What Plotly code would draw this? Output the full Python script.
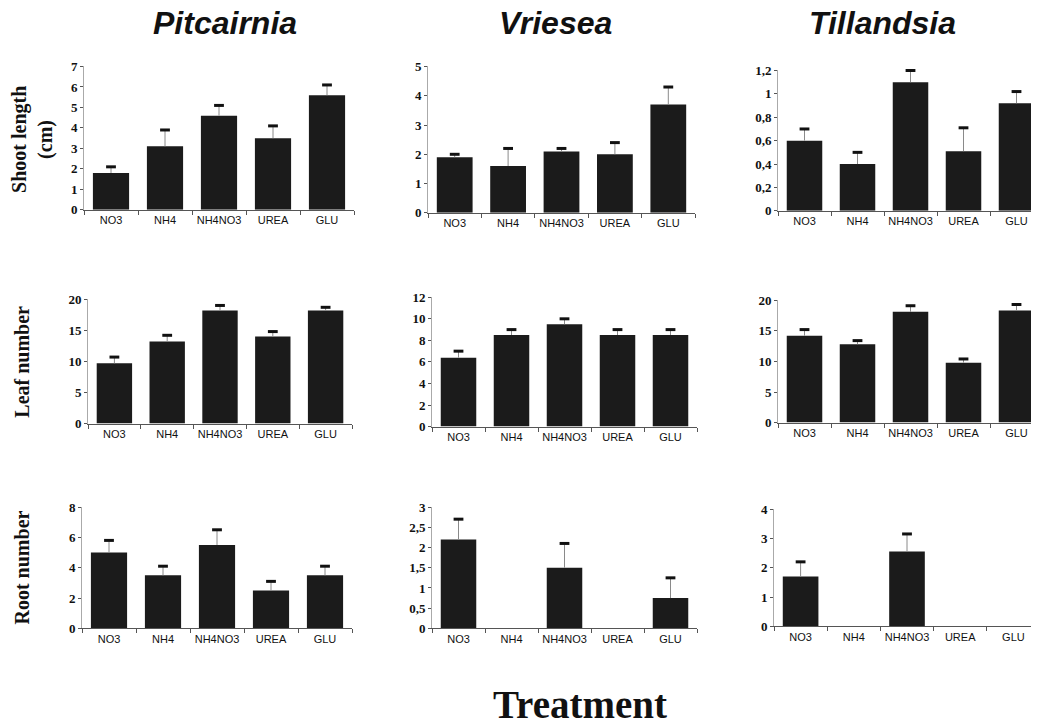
import plotly.graph_objects as go

# page placement correction (measured): window_x = fig_x + 8, window_y = 0.98 * fig_y + 15
OFF_X = 8
OFF_Y = 15
SY = 0.98
W, H = 1039, 717

treatments = ["NO3", "NH4", "NH4NO3", "UREA", "GLU"]
genera = ["Pitcairnia", "Vriesea", "Tillandsia"]

# Shoot length (cm)
shoot_pit = [1.8, 3.1, 4.6, 3.5, 5.6]
shoot_pit_err = [0.3, 0.8, 0.5, 0.6, 0.5]
shoot_vri = [1.9, 1.6, 2.1, 2.0, 3.7]
shoot_vri_err = [0.1, 0.6, 0.1, 0.4, 0.6]
shoot_til = [0.6, 0.4, 1.1, 0.51, 0.92]
shoot_til_err = [0.1, 0.1, 0.1, 0.2, 0.1]

# Leaf number
leaf_pit = [9.7, 13.2, 18.2, 14.0, 18.2]
leaf_pit_err = [1.0, 1.0, 0.8, 0.8, 0.5]
leaf_vri = [6.4, 8.5, 9.5, 8.5, 8.5]
leaf_vri_err = [0.6, 0.5, 0.5, 0.5, 0.5]
leaf_til = [14.2, 12.8, 18.1, 9.8, 18.3]
leaf_til_err = [1.0, 0.6, 1.0, 0.6, 1.0]

# Root number
root_pit = [5.0, 3.5, 5.5, 2.5, 3.5]
root_pit_err = [0.8, 0.6, 1.0, 0.6, 0.6]
root_vri = [2.2, 0.0, 1.5, 0.0, 0.75]
root_vri_err = [0.5, 0.0, 0.6, 0.0, 0.5]
root_til = [1.7, 0.0, 2.55, 0.0, 0.0]
root_til_err = [0.5, 0.0, 0.6, 0.0, 0.0]

# y-axis ranges and tick steps
y_max = [[7, 5, 1.2], [20, 12, 20], [8, 3, 4]]
y_step = [[1, 1, 0.2], [5, 2, 5], [2, 0.5, 1]]

values = [[shoot_pit, shoot_vri, shoot_til],
          [leaf_pit, leaf_vri, leaf_til],
          [root_pit, root_vri, root_til]]
errors = [[shoot_pit_err, shoot_vri_err, shoot_til_err],
          [leaf_pit_err, leaf_vri_err, leaf_til_err],
          [root_pit_err, root_vri_err, root_til_err]]

# panel boxes in window pixels: (x0, x1, ytop, ybottom)
boxes = [[(84, 354, 66, 210), (428, 695, 66, 213), (778, 1043, 70, 211)],
         [(88, 352, 299, 424), (432, 697, 297, 427), (778, 1043, 300, 423)],
         [(82, 352, 507, 629), (432, 697, 507, 629), (774, 1040, 509, 627)]]


def px(x):
    return min(max((x - OFF_X) / W, 0.0), 1.0)


def py(y):
    return min(max(1 - ((y - OFF_Y) / SY) / H, 0.0), 1.0)


fig = go.Figure()
layout = {}
n = 0
for r in range(3):
    for c in range(3):
        n += 1
        sfx = "" if n == 1 else str(n)
        xa, ya = "x" + sfx, "y" + sfx
        x0, x1, yt, yb = boxes[r][c]
        vals = values[r][c]
        errs = errors[r][c]
        fig.add_trace(go.Bar(
            x=treatments, y=vals, xaxis=xa, yaxis=ya,
            marker=dict(color="#1b1b1b", line=dict(width=0)),
            error_y=dict(type="data", array=errs, arrayminus=[0] * 5,
                         symmetric=False, color="#8a8a8a", thickness=1, width=0),
            showlegend=False,
        ))
        cx = [t for t, e in zip(treatments, errs) if e > 0]
        cy = [v + e for v, e in zip(vals, errs) if e > 0]
        fig.add_trace(go.Scatter(
            x=cx, y=cy, xaxis=xa, yaxis=ya, mode="markers",
            marker=dict(symbol="line-ew", size=7, line=dict(width=3, color="#111")),
            showlegend=False, hoverinfo="skip", cliponaxis=False,
        ))
        layout["xaxis" + sfx] = dict(
            domain=[px(x0), px(x1)], anchor=ya, type="category",
            range=[-0.5, 4.5], showline=True, linecolor="#555", linewidth=1,
            ticks="outside", tickson="boundaries", ticklen=4, tickcolor="#555",
            tickangle=0,
            tickfont=dict(family="Liberation Sans, Arial", size=11, color="#111"),
            showgrid=False, zeroline=False, fixedrange=True,
        )
        layout["yaxis" + sfx] = dict(
            domain=[py(yb), py(yt)], anchor=xa,
            range=[0, y_max[r][c] * 1.004], dtick=y_step[r][c], tick0=0,
            showline=True, linecolor="#aaa", linewidth=1,
            ticks="outside", ticklen=3, tickcolor="#555",
            tickfont=dict(family="Liberation Serif, Times New Roman", size=13,
                          color="#111", weight="bold"),
            showgrid=False, zeroline=False, fixedrange=True,
        )

annotations = []
title_x = [225, 555, 882]
for g, x in zip(genera, title_x):
    annotations.append(dict(
        text="<b><i>" + g + "</i></b>", x=px(x), y=py(23), xref="paper", yref="paper",
        showarrow=False, xanchor="center", yanchor="middle",
        font=dict(family="Liberation Sans, Arial", size=32, color="#111"),
    ))

row_labels = [("Shoot length", 20, 140), ("(cm)", 46, 140),
              ("Leaf number", 22, 362), ("Root number", 22, 568)]
for txt, x, y in row_labels:
    annotations.append(dict(
        text="<b>" + txt + "</b>", x=px(x), y=py(y), xref="paper", yref="paper",
        showarrow=False, xanchor="center", yanchor="middle", textangle=-90,
        font=dict(family="Liberation Serif, Times New Roman", size=20, color="#111"),
    ))

annotations.append(dict(
    text="<b>Treatment</b>", x=px(580), y=py(705), xref="paper", yref="paper",
    showarrow=False, xanchor="center", yanchor="middle",
    font=dict(family="Liberation Serif, Times New Roman", size=39, color="#111"),
))

fig.update_layout(
    width=W, height=H, margin=dict(l=0, r=0, t=0, b=0),
    paper_bgcolor="white", plot_bgcolor="white",
    bargap=0.33, separators=",.", annotations=annotations,
    **layout,
)

fig.write_html("out.html")
